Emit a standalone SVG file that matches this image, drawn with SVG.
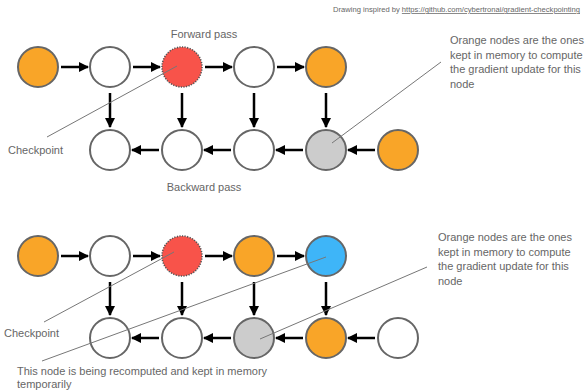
<svg xmlns="http://www.w3.org/2000/svg" width="587" height="390" viewBox="0 0 587 390">
<defs>
<marker id="ah" viewBox="0 0 10 10" refX="9" refY="5" markerWidth="4" markerHeight="4" orient="auto" markerUnits="strokeWidth">
<path d="M0,0 L10,5 L0,10 z" fill="#000"/>
</marker>
<style>
.n{stroke:#666;stroke-width:2;fill:#fff}
.o{fill:#f9a528}
.g{fill:#cccccc}
.b{fill:#3eb5f8}
.r{fill:#f8534a;stroke:#555;stroke-width:1.6;stroke-dasharray:1.2 1.4}
.a{stroke:#000;stroke-width:2.5;fill:none;marker-end:url(#ah)}
.l{stroke:#777;stroke-width:1;fill:none}
text{font-family:"Liberation Sans",Arial,sans-serif;fill:#666;font-size:11px}
.s{font-size:7.6px}
</style>
</defs>
<text class="s" x="580" y="12" text-anchor="end">Drawing inspired by <tspan text-decoration="underline">https://github.com/cybertronai/gradient-checkpointing</tspan></text>

<g id="connectors">
<line class="a" x1="61" y1="67" x2="88" y2="67"/>
<line class="a" x1="133" y1="67" x2="160" y2="67"/>
<line class="a" x1="205" y1="67" x2="232" y2="67"/>
<line class="a" x1="277" y1="67" x2="304" y2="67"/>
<line class="a" x1="110" y1="93" x2="110" y2="127"/>
<line class="a" x1="182" y1="93" x2="182" y2="127"/>
<line class="a" x1="254" y1="93" x2="254" y2="127"/>
<line class="a" x1="326" y1="93" x2="326" y2="127"/>
<line class="a" x1="375" y1="150" x2="348" y2="150"/>
<line class="a" x1="303" y1="150" x2="276" y2="150"/>
<line class="a" x1="231" y1="150" x2="204" y2="150"/>
<line class="a" x1="159" y1="150" x2="132" y2="150"/>

<line class="a" x1="61" y1="256" x2="88" y2="256"/>
<line class="a" x1="133" y1="256" x2="160" y2="256"/>
<line class="a" x1="205" y1="256" x2="232" y2="256"/>
<line class="a" x1="277" y1="256" x2="304" y2="256"/>
<line class="a" x1="110" y1="282" x2="110" y2="315"/>
<line class="a" x1="182" y1="282" x2="182" y2="315"/>
<line class="a" x1="254" y1="282" x2="254" y2="315"/>
<line class="a" x1="326" y1="282" x2="326" y2="315"/>
<line class="a" x1="375" y1="338" x2="348" y2="338"/>
<line class="a" x1="303" y1="338" x2="276" y2="338"/>
<line class="a" x1="231" y1="338" x2="204" y2="338"/>
<line class="a" x1="159" y1="338" x2="132" y2="338"/>
</g>

<g id="top-forward">
<ellipse id="t1" class="n o" cx="38" cy="67" rx="20" ry="20"/>
<ellipse id="t2" class="n" cx="110" cy="67" rx="20" ry="20"/>
<ellipse id="t3" class="r" cx="182" cy="67" rx="20" ry="20"/>
<ellipse id="t4" class="n" cx="254" cy="67" rx="20" ry="20"/>
<ellipse id="t5" class="n o" cx="326" cy="67" rx="20" ry="20"/>
</g>
<g id="top-backward">
<ellipse id="tb1" class="n" cx="110" cy="150" rx="20" ry="20"/>
<ellipse id="tb2" class="n" cx="182" cy="150" rx="20" ry="20"/>
<ellipse id="tb3" class="n" cx="254" cy="150" rx="20" ry="20"/>
<ellipse id="tb4" class="n g" cx="326" cy="150" rx="20" ry="20"/>
<ellipse id="tb5" class="n o" cx="398" cy="150" rx="20" ry="20"/>
</g>
<g id="bottom-forward">
<ellipse id="b1" class="n o" cx="38" cy="256" rx="20" ry="20"/>
<ellipse id="b2" class="n" cx="110" cy="256" rx="20" ry="20"/>
<ellipse id="b3" class="r" cx="182" cy="256" rx="20" ry="20"/>
<ellipse id="b4" class="n o" cx="254" cy="256" rx="20" ry="20"/>
<ellipse id="b5" class="n b" cx="326" cy="256" rx="20" ry="20"/>
</g>
<g id="bottom-backward">
<ellipse id="bb1" class="n" cx="110" cy="338" rx="20" ry="20"/>
<ellipse id="bb2" class="n" cx="182" cy="338" rx="20" ry="20"/>
<ellipse id="bb3" class="n g" cx="254" cy="338" rx="20" ry="20"/>
<ellipse id="bb4" class="n o" cx="326" cy="338" rx="20" ry="20"/>
<ellipse id="bb5" class="n" cx="398" cy="338" rx="20" ry="20"/>
</g>

<g id="annotations">
<line class="l" x1="47" y1="137" x2="177" y2="66"/>
<line class="l" x1="332" y1="143" x2="441" y2="62"/>
<line class="l" x1="44" y1="322" x2="174" y2="252"/>
<line class="l" x1="42" y1="361" x2="326" y2="257"/>
<line class="l" x1="260" y1="339" x2="427" y2="267"/>
</g>

<text x="204" y="38" text-anchor="middle">Forward pass</text>
<text x="204" y="191" text-anchor="middle">Backward pass</text>
<text x="8" y="154">Checkpoint</text>
<text x="4" y="337">Checkpoint</text>
<text x="450" y="44">Orange nodes are the ones</text>
<text x="450" y="58.5">kept in memory to compute</text>
<text x="450" y="73">the gradient update for this</text>
<text x="450" y="87.5">node</text>
<text x="438" y="241">Orange nodes are the ones</text>
<text x="438" y="255.5">kept in memory to compute</text>
<text x="438" y="270">the gradient update for this</text>
<text x="438" y="284.5">node</text>
<text x="17" y="375">This node is being recomputed and kept in memory</text>
<text x="17" y="388">temporarily</text>
</svg>
